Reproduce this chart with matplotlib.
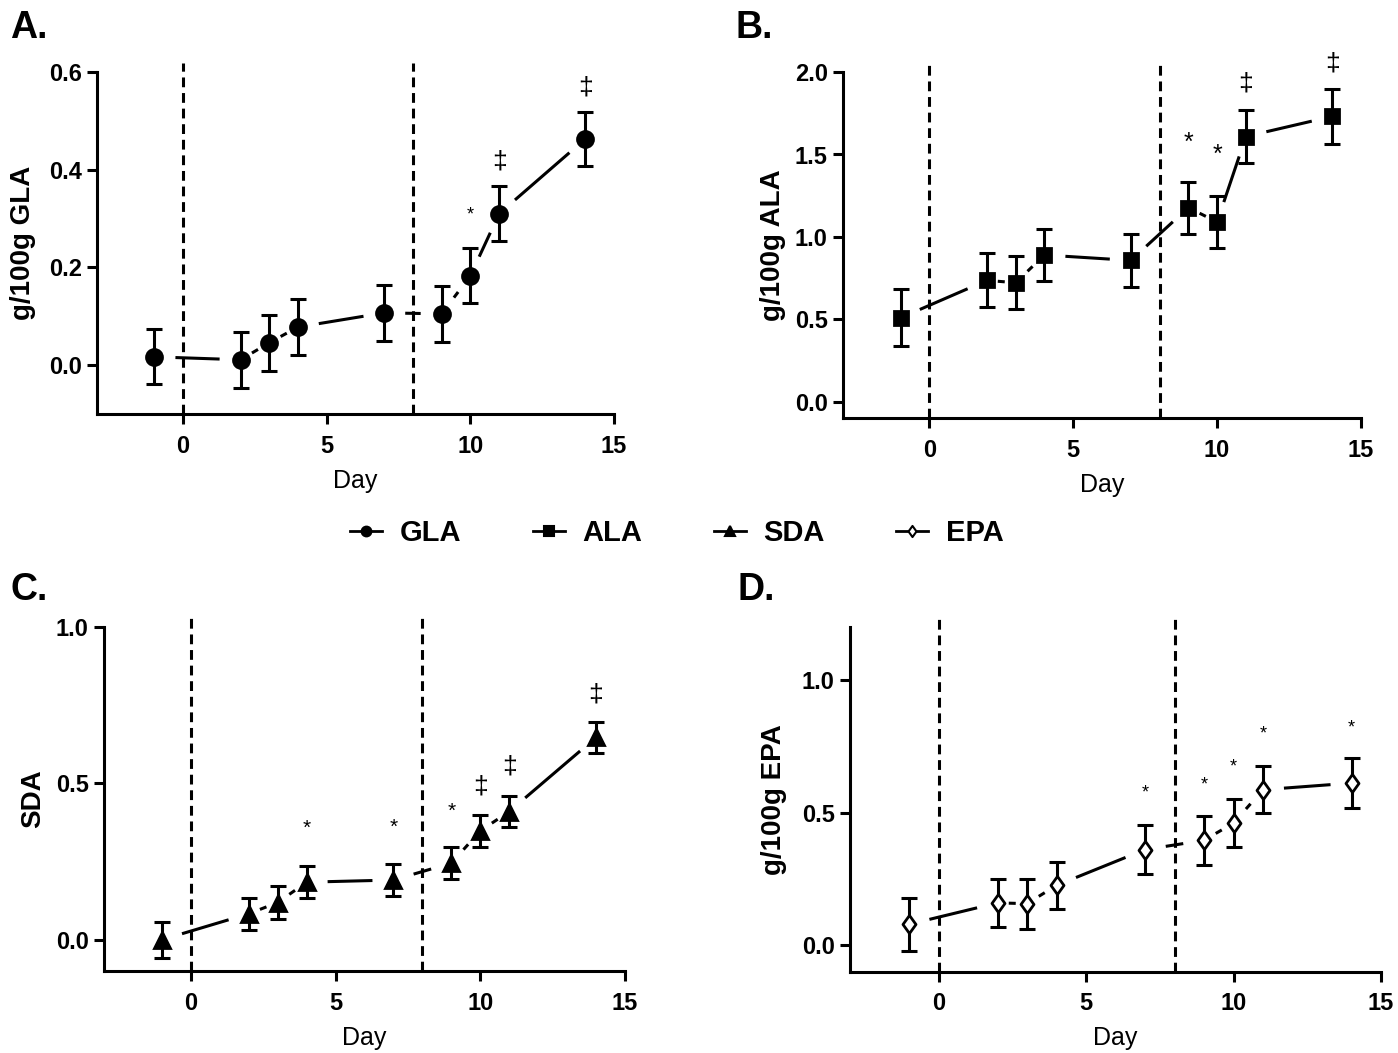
import numpy as np
import matplotlib
matplotlib.use("Agg")
import matplotlib.pyplot as plt
from matplotlib.path import Path
from matplotlib.lines import Line2D

plt.rcParams['font.family'] = ['Liberation Sans', 'DejaVu Sans']

days = [-1, 2, 3, 4, 7, 9, 10, 11, 14]

gla = [0.017, 0.011, 0.046, 0.078, 0.107, 0.105, 0.183, 0.310, 0.463]
gla_err = [0.056, 0.057, 0.057, 0.057, 0.057, 0.057, 0.056, 0.056, 0.055]
ala = [0.51, 0.737, 0.723, 0.891, 0.858, 1.178, 1.091, 1.609, 1.731]
ala_err = [0.172, 0.164, 0.16, 0.16, 0.162, 0.158, 0.158, 0.16, 0.166]
sda = [0.0, 0.083, 0.119, 0.184, 0.191, 0.245, 0.348, 0.41, 0.647]
sda_err = [0.057, 0.051, 0.052, 0.051, 0.051, 0.052, 0.051, 0.051, 0.05]
epa = [0.078, 0.159, 0.156, 0.225, 0.36, 0.395, 0.46, 0.586, 0.611]
epa_err = [0.1, 0.09, 0.094, 0.09, 0.092, 0.093, 0.09, 0.089, 0.093]

# significance marks: (day, y, symbol)
gla_marks = [(10, 0.308, '*'), (11, 0.416, '‡'), (14, 0.569, '‡')]
ala_marks = [(9, 1.57, '*'), (10, 1.497, '*'), (11, 1.93, '‡'), (14, 2.05, '‡')]
sda_marks = [(4, 0.355, '*'), (7, 0.36, '*'), (9, 0.41, '*'),
             (10, 0.49, '‡'), (11, 0.555, '‡'), (14, 0.785, '‡')]
epa_marks = [(7, 0.574, '*'), (9, 0.604, '*'), (10, 0.672, '*'),
             (11, 0.796, '*'), (14, 0.819, '*')]

diamond = Path([(0, 1), (0.72, 0), (0, -1), (-0.72, 0), (0, 1)],
               [Path.MOVETO, Path.LINETO, Path.LINETO, Path.LINETO, Path.CLOSEPOLY])

W, H = 1398, 1053
fig = plt.figure(figsize=(W / 100, H / 100), dpi=100)


def px_axes(l, r, t, b):
    return fig.add_axes([l / W, 1 - b / H, (r - l) / W, (b - t) / H])


def gapped_line(ax, x, y, gap=21, minvis=7):
    pts = ax.transData.transform(np.column_stack([x, y]))
    inv = ax.transData.inverted()
    for p, q in zip(pts[:-1], pts[1:]):
        d = q - p
        L = np.hypot(*d)
        g = min(gap, max((L - minvis) / 2, 0))
        u = d / L
        seg = inv.transform(np.array([p + u * g, q - u * g]))
        ax.plot(seg[:, 0], seg[:, 1], color='black', lw=2.2,
                solid_capstyle='butt', zorder=2)


def panel(box, vals, errs, marks, ylim, yticks, ylabel, ylab_x, marker, ms,
          face, letter, letter_xy, starsize, ticklabels):
    ax = px_axes(*box)
    ax.set_xlim(-3, 15)
    ax.set_ylim(*ylim)
    for s in ['top', 'right']:
        ax.spines[s].set_visible(False)
    for s in ['left', 'bottom']:
        ax.spines[s].set_linewidth(2.2)
    ax.set_xticks([0, 5, 10, 15])
    ax.set_yticks(yticks)
    ax.set_yticklabels(ticklabels)
    ax.tick_params(width=2.2, length=7, labelsize=17)
    ax.tick_params(axis='x', pad=8)
    ax.tick_params(axis='y', pad=4)
    for lab in ax.get_xticklabels() + ax.get_yticklabels():
        lab.set_fontweight('bold')
    ax.set_xlabel('Day', fontsize=18, labelpad=8)
    ax.set_ylabel(ylabel, fontsize=20, fontweight='bold')
    ax.yaxis.set_label_coords((ylab_x - box[0]) / (box[1] - box[0]), 0.5)

    for xv in [0, 8]:
        ax.axvline(xv, ymin=0, ymax=1.025, color='black', lw=2.2,
                   dashes=(3.2, 1.9), clip_on=False, zorder=1)

    gapped_line(ax, days, vals)
    ax.errorbar(days, vals, yerr=errs, fmt='none', ecolor='black',
                elinewidth=2.2, capsize=6, capthick=2.2, zorder=3)
    ax.plot(days, vals, linestyle='none', marker=marker, markersize=ms,
            markerfacecolor=face, markeredgecolor='black',
            markeredgewidth=2.0, zorder=4)

    for d, yv, sym in marks:
        size = starsize if sym == '*' else 19
        ax.text(d, yv, sym, ha='center', va='center', fontsize=size,
                clip_on=False)

    fig.text(letter_xy[0] / W, 1 - letter_xy[1] / H, letter, fontsize=27,
             fontweight='bold', ha='left', va='center')
    return ax


panel((97, 614, 72, 414), gla, gla_err, gla_marks, (-0.1, 0.6),
      [0.0, 0.2, 0.4, 0.6], 'g/100g GLA', 36, 'o', 11.5, 'black',
      'A.', (10, 28), 13, ['0.0', '0.2', '0.4', '0.6'])
panel((843, 1361, 72, 418.5), ala, ala_err, ala_marks, (-0.1, 2.0),
      [0.0, 0.5, 1.0, 1.5, 2.0], 'g/100g ALA', 786, 's', 10.5, 'black',
      'B.', (735, 28), 18, ['0.0', '0.5', '1.0', '1.5', '2.0'])
panel((104, 625, 627, 971), sda, sda_err, sda_marks, (-0.1, 1.0),
      [0.0, 0.5, 1.0], 'SDA', 46, '^', 11, 'black',
      'C.', (10, 590), 15, ['0.0', '0.5', '1.0'])
panel((850, 1381, 627, 971.5), epa, epa_err, epa_marks, (-0.1, 1.2),
      [0.0, 0.5, 1.0], 'g/100g EPA', 787, diamond, 13, 'white',
      'D.', (738, 590), 13, ['0.0', '0.5', '1.0'])

handles = [
    Line2D([], [], color='black', lw=2, marker='o', markersize=7, markeredgewidth=1.5),
    Line2D([], [], color='black', lw=2, marker='s', markersize=7, markeredgewidth=1.5),
    Line2D([], [], color='black', lw=2, marker='^', markersize=7, markeredgewidth=1.5),
    Line2D([], [], color='black', lw=2, marker=diamond, markersize=8,
           markerfacecolor='white', markeredgewidth=1.5),
]
fig.legend(handles, ['GLA', 'ALA', 'SDA', 'EPA'], loc='center',
           bbox_to_anchor=(677 / W, 1 - 533 / H), ncol=4, frameon=False,
           columnspacing=2.45, handlelength=1.1, handletextpad=0.6,
           prop={'weight': 'bold', 'size': 21})

fig.savefig('out.png', dpi=100)
